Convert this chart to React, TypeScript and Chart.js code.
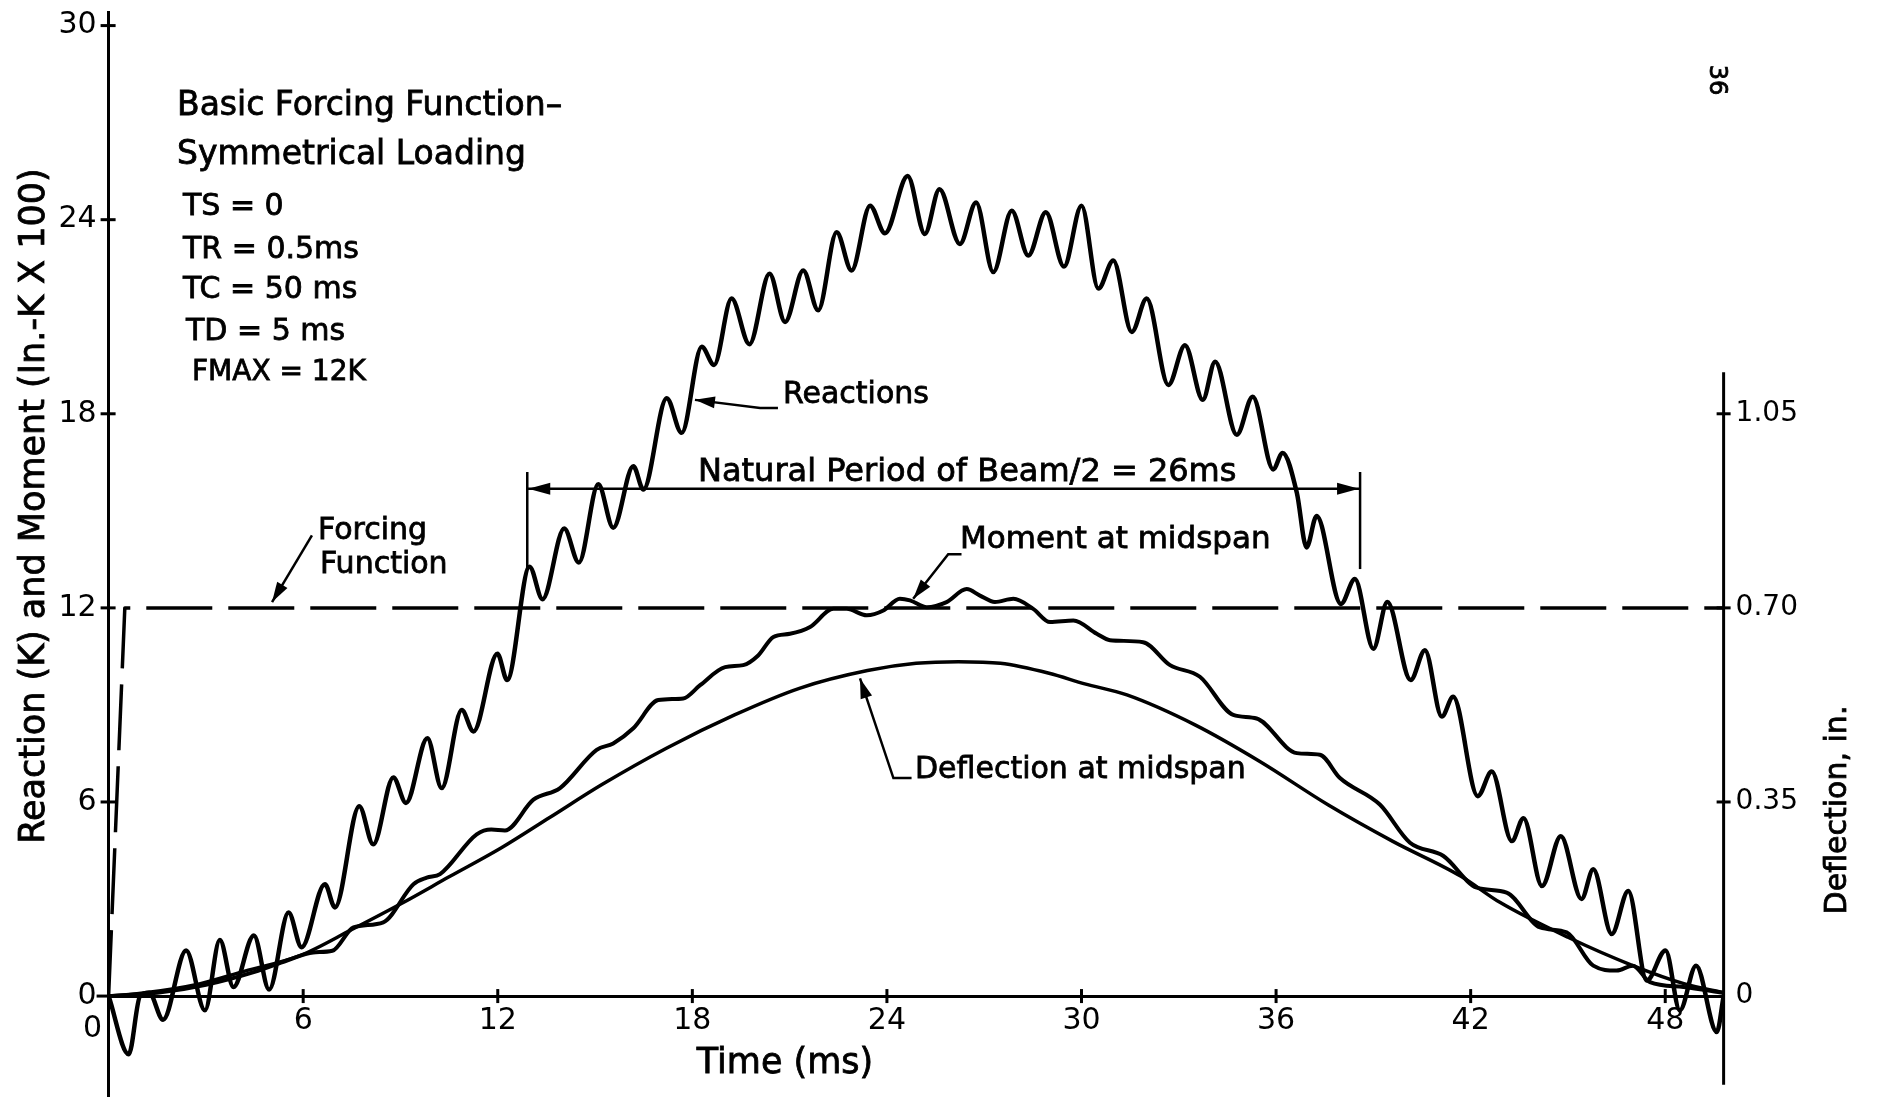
import React, { useEffect, useRef } from 'react';
import { Chart, registerables } from 'chart.js';

Chart.register(...registerables);

// ---------- tick values ----------
const xTicks = [0, 6, 12, 18, 24, 30, 36, 42, 48];
const yTicks = [0, 6, 12, 18, 24, 30];
const y2Ticks = [0, 0.35, 0.7, 1.05];
const y2TickLabels = ['0', '0.35', '0.70', '1.05'];

// ---------- forcing function (K) ----------
const forcingT = [0, 0.5, 49.8];
const forcingK = [0, 12, 12];

// ---------- reactions (K) ----------
const reactionT = [
  0, 0.62, 0.97, 1.25, 1.68, 2.39, 2.97, 3.43, 3.85, 4.48, 4.95, 5.55, 5.95, 6.67, 6.98,
  7.73, 8.16, 8.78, 9.17, 9.83, 10.27, 10.89, 11.25, 11.99, 12.29, 12.98, 13.38, 14.05, 14.5,
  15.1, 15.56, 16.18, 16.49, 17.21, 17.67, 18.29, 18.67, 19.21, 19.76, 20.38, 20.86, 21.42,
  21.88, 22.45, 22.91, 23.48, 23.94, 24.64, 25.17, 25.62, 26.25, 26.75, 27.28, 27.85, 28.36,
  28.9, 29.46, 30.0, 30.52, 30.98, 31.55, 32.01, 32.68, 33.19, 33.74, 34.12, 34.79, 35.28,
  35.91, 36.2, 36.64, 36.94, 37.25, 38.0, 38.43, 39.0, 39.43, 40.15, 40.59, 41.11, 41.46,
  42.22, 42.65, 43.27, 43.63, 44.2, 44.78, 45.42, 45.78, 46.35, 46.86, 47.43, 48.01, 48.45,
  48.95, 49.59, 49.8,
];
const reactionK = [
  0, -1.8, 0, 0.1, -0.73, 1.41, -0.44, 1.73, 0.28, 1.87, 0.2, 2.58, 1.51, 3.46, 2.74,
  5.87, 4.69, 6.76, 5.97, 7.97, 6.43, 8.84, 8.18, 10.58, 9.77, 13.27, 12.27, 14.45, 13.4,
  15.82, 14.48, 16.38, 15.66, 18.48, 17.41, 20.07, 19.51, 21.56, 20.15, 22.33, 20.84, 22.43,
  21.2, 23.61, 22.43, 24.43, 23.58, 25.35, 23.56, 24.94, 23.25, 24.53, 22.38, 24.28, 22.89,
  24.23, 22.55, 24.43, 21.87, 22.74, 20.53, 21.56, 18.89, 20.12, 18.43, 19.61, 17.35, 18.53,
  16.28, 16.79, 15.56, 13.87, 14.84, 12.12, 12.89, 10.74, 12.18, 9.77, 10.69, 8.64, 9.25,
  6.18, 6.94, 4.79, 5.5, 3.4, 4.94, 3.0, 3.92, 1.92, 3.25, 0.48, 1.41, -0.44,
  0.94, -1.11, 0,
];

// ---------- moment at midspan (in.-K x 100) ----------
const momentT = [
  0, 1.5, 3, 4.5, 5.5, 6.31, 6.9, 7.55, 8.47, 9.4, 9.81, 10.22, 11.35, 11.8, 12.22, 13.1,
  13.92, 15.05, 15.56, 16.18, 16.95, 17.72, 18.24, 19.01, 19.57, 20.03, 20.5, 21.01, 21.63,
  22.35, 22.76, 23.38, 23.89, 24.4, 24.71, 25.23, 25.84, 26.46, 26.87, 27.33, 27.9, 28.51,
  29.03, 29.75, 30.47, 30.88, 31.9, 32.73, 33.65, 34.68, 35.4, 36.64, 37.35, 37.97, 39.2,
  40.13, 41.16, 42.19, 43.11, 44.14, 44.96, 45.78, 46.5, 47.0, 47.53, 48.56, 49.8,
];
const momentM = [
  0, 0.1, 0.35, 0.75, 1.1, 1.35, 1.4, 2.12, 2.28, 3.46, 3.66, 3.77, 5.0, 5.15, 5.12, 6.07,
  6.43, 7.61, 7.81, 8.28, 9.15, 9.2, 9.61, 10.17, 10.23, 10.53, 11.1, 11.2, 11.41,
  11.97, 11.97, 11.77, 11.92, 12.28, 12.23, 12.02, 12.18, 12.58, 12.38, 12.18, 12.28, 11.97,
  11.56, 11.61, 11.2, 11.0, 10.94, 10.23, 9.87, 8.69, 8.58, 7.51, 7.46, 6.74, 5.92,
  4.74, 4.33, 3.35, 3.2, 2.12, 1.97, 0.94, 0.79, 0.94, 0.43, 0.28, 0.1,
];

// ---------- deflection at midspan (in.) ----------
const deflT = [
  0, 1, 2.8, 4.2, 5.9, 7.5, 9, 10.5, 12.1, 13.6, 15.2, 17.2, 19.3, 21.3, 23.4, 24.9, 26.2,
  27.5, 29.0, 30.1, 31.4, 33.5, 35.5, 37.6, 39.6, 41.7, 42.9, 45.0, 47.0, 48.6, 49.8,
];
const deflIn = [
  0, 0.005, 0.022, 0.045, 0.073, 0.12, 0.166, 0.215, 0.267, 0.322, 0.381, 0.447, 0.507,
  0.555, 0.587, 0.6, 0.603, 0.6, 0.582, 0.563, 0.543, 0.489, 0.423, 0.345, 0.279, 0.216,
  0.169, 0.106, 0.055, 0.022, 0.006,
];

// ---------- axis ranges ----------
const X_MAX = 49.8;
const Y_MIN = -3.12;
const Y_MAX = 30.42;
const IN_PER_UNIT = 0.35 / 6; // right axis: 0.35 in. per 6 units of left axis

// ---------- annotation geometry (data units) ----------
const natPeriod = { t0: 12.91, t1: 38.59, v: 15.68, barLo: 13.2, barHi: 16.2 };
const reactionsLeader = [[20.64, 18.18], [20.09, 18.18], [18.08, 18.43]];
const momentLeader = [[26.3, 13.66], [25.89, 13.66], [24.81, 12.28]];
const deflLeader = [[24.76, 6.74], [24.2, 6.74], [23.17, 9.82]];
const forcingLeader = [[6.27, 14.24], [5.04, 12.18]];
const rightAxisSpanIn = [1.125, -0.16];

const FONT = '"DejaVu Sans"';

const toPts = (xs: number[], ys: number[]) => xs.map((x, i) => ({ x, y: ys[i] }));

const zeroPad = (s: any) => {
  s.paddingTop = 0;
  s.paddingBottom = 0;
  s.paddingLeft = 0;
  s.paddingRight = 0;
};

const annotPlugin = {
  id: 'annot',
  afterDraw(chart: any) {
    const { ctx } = chart;
    const xs = chart.scales.x;
    const ys = chart.scales.y;
    const y2s = chart.scales.y2;
    const px = (t: number) => xs.getPixelForValue(t);
    const py = (v: number) => ys.getPixelForValue(v);
    ctx.save();
    ctx.strokeStyle = '#000';
    ctx.fillStyle = '#000';
    ctx.lineCap = 'butt';

    const seg = (x1: number, y1: number, x2: number, y2: number, w: number) => {
      ctx.lineWidth = w;
      ctx.beginPath();
      ctx.moveTo(x1, y1);
      ctx.lineTo(x2, y2);
      ctx.stroke();
    };
    const head = (x1: number, y1: number, x2: number, y2: number, len = 20, hw = 6) => {
      const a = Math.atan2(y2 - y1, x2 - x1);
      ctx.beginPath();
      ctx.moveTo(x2, y2);
      ctx.lineTo(x2 - len * Math.cos(a) + hw * Math.sin(a), y2 - len * Math.sin(a) - hw * Math.cos(a));
      ctx.lineTo(x2 - len * Math.cos(a) - hw * Math.sin(a), y2 - len * Math.sin(a) + hw * Math.cos(a));
      ctx.closePath();
      ctx.fill();
    };
    const leader = (pts: number[][]) => {
      const p = pts.map(([t, v]) => [px(t), py(v)]);
      ctx.lineWidth = 2.5;
      ctx.beginPath();
      ctx.moveTo(p[0][0], p[0][1]);
      for (let i = 1; i < p.length; i++) ctx.lineTo(p[i][0], p[i][1]);
      ctx.stroke();
      const n = p.length;
      head(p[n - 2][0], p[n - 2][1], p[n - 1][0], p[n - 1][1]);
    };
    const text = (s: string, x: number, y: number, size: number, align = 'left') => {
      ctx.font = `${size}px ${FONT}`;
      ctx.textAlign = align;
      ctx.textBaseline = 'alphabetic';
      ctx.lineWidth = 0.8;
      ctx.fillText(s, x, y);
      ctx.strokeText(s, x, y);
    };
    const rotText = (s: string, cx: number, cy: number, size: number, angle: number) => {
      ctx.save();
      ctx.translate(cx, cy);
      ctx.rotate(angle);
      ctx.font = `${size}px ${FONT}`;
      ctx.textAlign = 'center';
      ctx.textBaseline = 'middle';
      ctx.lineWidth = 0.8;
      ctx.fillText(s, 0, 0);
      ctx.strokeText(s, 0, 0);
      ctx.restore();
    };

    // right axis line
    const xR = px(X_MAX);
    seg(xR, y2s.getPixelForValue(rightAxisSpanIn[0]), xR, y2s.getPixelForValue(rightAxisSpanIn[1]), 3);

    // crossing tick marks
    const x0 = px(0);
    const yZero = py(0);
    seg(x0 - 12, yZero, x0, yZero, 3);
    xTicks.forEach((t) => { if (t !== 0) seg(px(t), yZero - 7, px(t), yZero + 7, 3); });
    yTicks.forEach((v) => { if (v !== 0) seg(x0 - 8, py(v), x0 + 7, py(v), 3); });
    y2Ticks.forEach((v) => { if (v !== 0) seg(xR - 7, y2s.getPixelForValue(v), xR + 7, y2s.getPixelForValue(v), 3); });

    // x "0" label offset left of the origin
    ctx.font = `30px ${FONT}`;
    ctx.textAlign = 'center';
    ctx.textBaseline = 'alphabetic';
    ctx.fillText('0', x0 - 16, yZero + 41);

    // natural period dimension
    const nx0 = px(natPeriod.t0), nx1 = px(natPeriod.t1), ny = py(natPeriod.v);
    seg(nx0, py(natPeriod.barHi), nx0, py(natPeriod.barLo), 2.5);
    seg(nx1, py(natPeriod.barHi), nx1, py(natPeriod.barLo), 2.5);
    seg(nx0, ny, nx1, ny, 2.5);
    head(nx0 + 30, ny, nx0 + 1, ny, 22, 6);
    head(nx1 - 30, ny, nx1 - 1, ny, 22, 6);
    text('Natural Period of Beam/2 = 26ms', 698, 481, 32);

    // leaders
    leader(reactionsLeader);
    leader(momentLeader);
    leader(deflLeader);
    leader(forcingLeader);

    // labels
    text('Reactions', 783, 403, 30);
    text('Moment at midspan', 960, 548, 31);
    text('Deflection at midspan', 915, 778, 30);
    text('Forcing', 318, 539, 30);
    text('Function', 320, 573, 30);

    // parameter block
    text('Basic Forcing Function\u2013', 177, 115, 33);
    text('Symmetrical Loading', 177, 164, 33);
    text('TS = 0', 183, 215, 30);
    text('TR = 0.5ms', 183, 258, 30);
    text('TC = 50 ms', 183, 298, 30);
    text('TD = 5 ms', 186, 340, 30);
    text('FMAX = 12K', 192, 380, 28);

    // axis titles
    text('Time (ms)', 785, 1073, 35, 'center');
    rotText('Reaction (K) and Moment (In.-K X 100)', 35, 506, 35, -Math.PI / 2);
    rotText('Deflection, in.', 1838, 810, 30, -Math.PI / 2);

    // page number
    rotText('36', 1716, 80, 24, Math.PI / 2);

    ctx.restore();
  },
};

export default function App() {
  const ref = useRef<HTMLCanvasElement>(null);
  useEffect(() => {
    const canvas = ref.current;
    if (!canvas) return;
    const LEFT_W = 108.6;
    const chartRight = LEFT_W + X_MAX * 32.43;
    const RIGHT_W = 1879 - chartRight;
    const tickFont = { family: FONT, size: 30 };
    const line = { pointRadius: 0, borderColor: '#000', fill: false, borderJoinStyle: 'round', borderCapStyle: 'round' };
    const chart = new Chart(canvas, {
      type: 'line',
      data: {
        datasets: [
          { ...line, label: 'Forcing Function', data: toPts(forcingT, forcingK), borderWidth: 3.5, borderDash: [66, 16], borderCapStyle: 'butt', tension: 0, yAxisID: 'y' },
          { ...line, label: 'Reactions', data: toPts(reactionT, reactionK), borderWidth: 4.5, cubicInterpolationMode: 'monotone', yAxisID: 'y' },
          { ...line, label: 'Moment at midspan', data: toPts(momentT, momentM), borderWidth: 4, cubicInterpolationMode: 'monotone', yAxisID: 'y' },
          { ...line, label: 'Deflection at midspan', data: toPts(deflT, deflIn), borderWidth: 3.5, cubicInterpolationMode: 'monotone', yAxisID: 'y2' },
        ],
      },
      options: {
        animation: false,
        responsive: false,
        devicePixelRatio: 1,
        events: [],
        layout: { autoPadding: false, padding: { left: 0, right: 0, top: 12, bottom: 0 } },
        plugins: { legend: { display: false }, tooltip: { enabled: false }, title: { display: false } },
        scales: {
          x: {
            type: 'linear',
            axis: 'x',
            position: { y: 0 },
            min: 0,
            max: X_MAX,
            grid: { display: false, drawTicks: false },
            border: { display: true, color: '#000', width: 3 },
            afterBuildTicks: (s: any) => { s.ticks = xTicks.map((v) => ({ value: v })); },
            afterFit: (s: any) => { zeroPad(s); },
            ticks: {
              autoSkip: false,
              maxRotation: 0,
              padding: 7,
              color: '#000',
              font: tickFont,
              callback: (v: any) => (v === 0 ? '' : String(v)),
            },
          },
          y: {
            type: 'linear',
            position: 'left',
            min: Y_MIN,
            max: Y_MAX,
            grid: { display: false, drawTicks: false },
            border: { display: true, color: '#000', width: 3 },
            afterBuildTicks: (s: any) => { s.ticks = yTicks.map((v) => ({ value: v })); },
            afterFit: (s: any) => { s.width = LEFT_W; zeroPad(s); },
            ticks: { autoSkip: false, padding: 12, color: '#000', font: tickFont, callback: (v: any) => String(v) },
          },
          y2: {
            type: 'linear',
            position: 'right',
            min: Y_MIN * IN_PER_UNIT,
            max: Y_MAX * IN_PER_UNIT,
            grid: { display: false, drawTicks: false },
            border: { display: false },
            afterBuildTicks: (s: any) => { s.ticks = y2Ticks.map((v) => ({ value: v })); },
            afterFit: (s: any) => { s.width = RIGHT_W; zeroPad(s); },
            ticks: {
              autoSkip: false,
              padding: 12,
              color: '#000',
              font: { family: FONT, size: 28 },
              callback: (v: any) => {
                const i = y2Ticks.findIndex((t) => Math.abs(t - v) < 1e-6);
                return i >= 0 ? y2TickLabels[i] : '';
              },
            },
          },
        },
      },
      plugins: [annotPlugin],
    } as any);
    return () => chart.destroy();
  }, []);

  return (
    <div style={{ position: 'fixed', left: 0, top: 0, width: 1879, height: 1097, background: '#fff' }}>
      <canvas ref={ref} width={1879} height={1097} style={{ width: 1879, height: 1097, display: 'block' }} />
    </div>
  );
}
